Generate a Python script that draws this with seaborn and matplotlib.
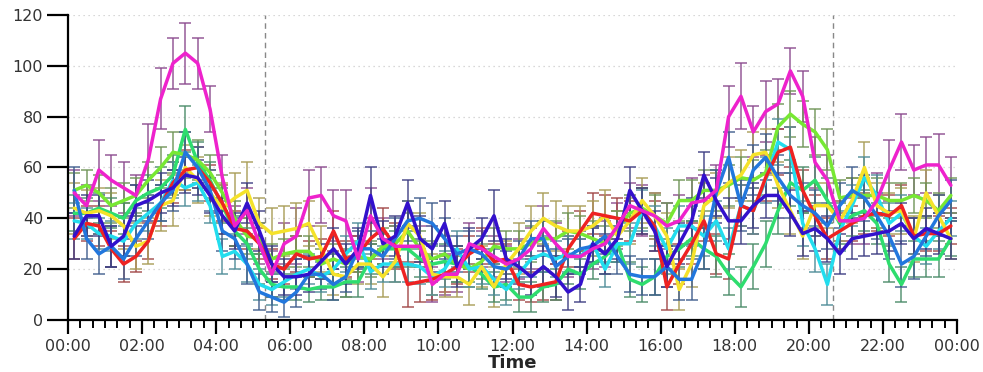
import numpy as np
import pandas as pd
import matplotlib
matplotlib.use("Agg")
import matplotlib.pyplot as plt
import seaborn as sns
from matplotlib.ticker import MultipleLocator, FixedLocator

# bin centres, 20-minute bins (hours of day)
minutes = np.arange(10, 1440, 20)
hours = minutes / 60.0

series_names = ["magenta", "red", "yellow", "lime", "green", "cyan", "blue", "navy"]

magenta = [50, 45, 59, 55, 52, 49, 63, 87, 101, 105,
           101, 83, 56, 37, 43, 30, 18, 30, 33, 48,
           49, 41, 39, 24, 41, 32, 29, 29, 29, 14,
           18, 18, 30, 28, 25, 22, 24, 28, 36, 30,
           25, 25, 28, 30, 37, 45, 43, 41, 37, 39,
           46, 47, 51, 80, 88, 74, 82, 85, 98, 88,
           62, 55, 39, 39, 40, 47, 59, 70, 59, 61,
           61, 53]
red = [32, 38, 37, 28, 22, 25, 31, 45, 54, 59,
       60, 54, 46, 36, 35, 30, 22, 20, 26, 24,
       25, 35, 24, 26, 32, 36, 29, 14, 15, 16,
       18, 21, 26, 29, 23, 24, 14, 13, 14, 15,
       28, 35, 42, 41, 40, 39, 43, 37, 13, 22,
       30, 39, 26, 24, 45, 43, 56, 66, 68, 51,
       41, 32, 35, 38, 41, 42, 41, 45, 33, 34,
       34, 37]
yellow = [44, 42, 43, 41, 37, 29, 31, 45, 47, 60,
          55, 50, 44, 48, 51, 38, 34, 35, 36, 38,
          28, 18, 17, 22, 22, 17, 23, 38, 33, 18,
          17, 17, 14, 21, 13, 22, 28, 35, 40, 37,
          35, 35, 37, 41, 33, 39, 47, 41, 33, 12,
          22, 45, 49, 54, 57, 65, 66, 53, 43, 33,
          45, 45, 39, 47, 60, 45, 42, 43, 32, 50,
          41, 32]
lime = [51, 53, 50, 45, 47, 49, 55, 60, 66, 65,
        63, 58, 50, 40, 33, 32, 24, 26, 27, 27,
        22, 24, 22, 25, 24, 29, 30, 35, 28, 24,
        26, 22, 20, 23, 29, 28, 28, 30, 32, 32,
        35, 34, 32, 30, 36, 42, 44, 41, 38, 47,
        47, 51, 51, 53, 56, 55, 58, 76, 81, 77,
        74, 67, 48, 49, 49, 49, 47, 47, 49, 47,
        43, 49]
green = [42, 42, 44, 42, 40, 47, 50, 52, 57, 75,
         62, 55, 45, 35, 30, 20, 14, 13, 13, 12,
         13, 13, 15, 15, 24, 28, 28, 28, 24, 22,
         23, 22, 21, 18, 13, 14, 9, 9, 13, 14,
         20, 18, 22, 25, 30, 16, 14, 17, 25, 28,
         32, 28, 25, 18, 13, 21, 30, 43, 54, 51,
         55, 47, 38, 41, 43, 38, 22, 14, 24, 24,
         24, 32]
cyan = [39, 38, 34, 33, 31, 38, 42, 46, 55, 52,
        54, 45, 25, 27, 22, 14, 12, 15, 18, 20,
        17, 20, 26, 31, 19, 22, 22, 22, 21, 17,
        20, 28, 20, 21, 16, 12, 18, 24, 26, 24,
        26, 25, 30, 20, 30, 30, 43, 37, 28, 37,
        37, 33, 39, 28, 45, 43, 55, 70, 67, 38,
        28, 14, 35, 45, 56, 49, 38, 42, 33, 29,
        35, 40]
blue = [51, 32, 26, 29, 24, 32, 39, 46, 51, 66,
        60, 51, 35, 32, 22, 11, 9, 7, 11, 18,
        18, 14, 17, 28, 28, 25, 32, 39, 40, 38,
        32, 26, 28, 26, 21, 20, 24, 32, 32, 21,
        25, 28, 29, 33, 25, 18, 17, 17, 21, 16,
        16, 28, 50, 64, 45, 59, 64, 56, 49, 45,
        42, 37, 45, 51, 48, 41, 33, 22, 25, 33,
        41, 47]
navy = [33, 41, 41, 29, 33, 45, 47, 50, 52, 57,
        56, 49, 41, 35, 46, 35, 22, 17, 17, 18,
        23, 28, 22, 28, 49, 30, 33, 46, 32, 28,
        38, 21, 28, 32, 41, 24, 21, 17, 21, 17,
        11, 14, 30, 26, 32, 51, 43, 35, 21, 30,
        39, 57, 47, 39, 39, 45, 49, 49, 42, 34,
        36, 32, 26, 32, 33, 34, 35, 38, 32, 36,
        34, 32]

magenta_err = [9, 8, 12, 10, 10, 8, 14, 12, 10, 12,
               10, 9, 9, 8, 9, 8, 9, 8, 11, 11,
               11, 10, 12, 9, 11, 8, 8, 7, 8, 7,
               8, 7, 8, 7, 8, 7, 8, 8, 9, 8,
               8, 7, 8, 9, 9, 9, 10, 9, 9, 10,
               10, 10, 10, 12, 13, 10, 12, 10, 9, 10,
               10, 10, 8, 9, 10, 11, 12, 11, 10, 11,
               12, 11]
red_err = [8, 7, 8, 7, 7, 6, 7, 8, 8, 8,
           8, 7, 7, 7, 7, 6, 6, 6, 7, 7,
           7, 8, 7, 7, 8, 8, 9, 9, 8, 8,
           7, 7, 7, 7, 7, 6, 6, 6, 6, 7,
           7, 8, 8, 8, 8, 8, 9, 10, 9, 8,
           8, 8, 8, 8, 8, 9, 9, 9, 8, 8,
           8, 8, 7, 7, 7, 7, 8, 8, 7, 7,
           7, 7]
yellow_err = [10, 9, 9, 9, 9, 9, 9, 10, 10, 9,
              9, 9, 10, 10, 11, 10, 10, 10, 10, 9,
              9, 8, 8, 8, 8, 8, 8, 9, 9, 8,
              8, 8, 8, 8, 8, 9, 10, 10, 10, 10,
              10, 10, 10, 10, 10, 9, 9, 9, 9, 8,
              9, 9, 9, 10, 10, 9, 9, 9, 9, 9,
              9, 9, 8, 9, 10, 9, 8, 9, 9, 9,
              8, 8]
lime_err = [7, 6, 7, 7, 7, 7, 7, 8, 8, 9,
            8, 7, 7, 7, 7, 6, 6, 6, 6, 6,
            6, 6, 6, 6, 7, 7, 7, 7, 7, 7,
            7, 7, 7, 7, 7, 7, 7, 7, 7, 7,
            7, 7, 7, 7, 7, 7, 8, 8, 8, 8,
            8, 8, 8, 8, 8, 8, 9, 9, 9, 9,
            9, 8, 7, 7, 7, 7, 7, 7, 7, 7,
            7, 7]
green_err = [7, 6, 6, 6, 6, 6, 7, 8, 8, 9,
             8, 7, 7, 6, 6, 6, 5, 5, 5, 5,
             5, 5, 6, 6, 6, 6, 7, 7, 7, 7,
             7, 7, 6, 6, 6, 6, 6, 6, 6, 6,
             6, 6, 6, 7, 7, 7, 7, 7, 7, 7,
             7, 8, 8, 8, 8, 9, 9, 9, 9, 9,
             9, 9, 8, 8, 8, 8, 7, 7, 7, 7,
             7, 7]
cyan_err = [7, 6, 6, 6, 6, 6, 7, 7, 7, 7,
            7, 7, 7, 7, 7, 6, 6, 6, 6, 6,
            6, 6, 7, 7, 7, 7, 7, 7, 7, 7,
            7, 7, 7, 7, 6, 6, 6, 7, 7, 7,
            7, 7, 7, 7, 7, 8, 8, 8, 8, 8,
            8, 8, 8, 8, 8, 9, 9, 9, 9, 9,
            9, 8, 8, 8, 8, 8, 8, 7, 7, 7,
            7, 7]
blue_err = [9, 8, 8, 8, 8, 7, 7, 7, 8, 8,
            8, 8, 8, 8, 8, 7, 6, 6, 6, 6,
            6, 6, 6, 7, 7, 7, 8, 8, 8, 8,
            8, 7, 7, 7, 7, 7, 7, 7, 7, 7,
            7, 7, 7, 7, 7, 7, 7, 7, 8, 8,
            8, 8, 9, 10, 10, 10, 9, 9, 9, 9,
            9, 9, 9, 9, 9, 9, 9, 9, 9, 8,
            8, 8]
navy_err = [9, 8, 8, 8, 8, 8, 8, 8, 7, 7,
            7, 7, 7, 7, 8, 8, 7, 7, 7, 7,
            7, 8, 8, 8, 11, 9, 8, 9, 9, 9,
            9, 8, 8, 8, 10, 8, 7, 7, 8, 8,
            7, 7, 7, 8, 8, 9, 9, 8, 8, 8,
            9, 9, 9, 9, 9, 9, 9, 9, 9, 9,
            9, 9, 8, 8, 8, 8, 8, 8, 8, 8,
            8, 8]

# sunrise / sunset markers (hours)
sunrise = 5.33
sunset = 20.65

line_colors = {"magenta": "#EE22CC", "red": "#EE2222", "yellow": "#F5E22A",
               "lime": "#77E833", "green": "#2EDD6E", "cyan": "#22DDEE",
               "blue": "#2277DD", "navy": "#3311CC"}
err_colors = {"magenta": "#8A4A8E", "red": "#A04545", "yellow": "#A89C55",
              "lime": "#6E9455", "green": "#4A8A68", "cyan": "#4E8C98",
              "blue": "#3E5C8C", "navy": "#3C3C82"}

means = dict(zip(series_names, [magenta, red, yellow, lime, green, cyan, blue, navy]))
errs = dict(zip(series_names, [magenta_err, red_err, yellow_err, lime_err,
                               green_err, cyan_err, blue_err, navy_err]))

frames = []
for name in series_names:
    frames.append(pd.DataFrame({"hour": hours, "value": means[name],
                                "err": errs[name], "series": name}))
df = pd.concat(frames, ignore_index=True)

sns.set_theme(style="white")
plt.rcParams["font.family"] = ["DejaVu Sans"]

fig = plt.figure(figsize=(9.83, 3.72), dpi=100)
ax = fig.add_axes([0.0692, 0.1398, 0.9044, 0.8199])

# error bars first, lines on top
for name in series_names:
    sub = df[df["series"] == name]
    ax.errorbar(sub["hour"], sub["value"], yerr=sub["err"], fmt="none",
                ecolor=err_colors[name], elinewidth=1.1, capsize=4.5,
                capthick=1.1, alpha=0.9, zorder=2)

draw_order = ["green", "lime", "cyan", "yellow", "red", "blue", "navy", "magenta"]
sns.lineplot(data=df, x="hour", y="value", hue="series", hue_order=draw_order,
             palette=line_colors, linewidth=2.5, legend=False, ax=ax, zorder=3)

for xv in (sunrise, sunset):
    ax.axvline(xv, color="#888888", linestyle=(0, (4, 3)), linewidth=1.0, zorder=1)

ax.set_xlim(0, 24)
ax.set_ylim(0, 120)
ax.set_yticks(range(0, 121, 20))
for yv in range(20, 121, 20):
    ax.axhline(yv, color="#CCCCCC", linestyle=(0, (1, 3)), linewidth=0.9, zorder=0)

ax.xaxis.set_major_locator(FixedLocator(range(0, 25, 2)))
ax.set_xticklabels([f"{h % 24:02d}:00" for h in range(0, 25, 2)])
ax.xaxis.set_minor_locator(MultipleLocator(1 / 3))

ax.tick_params(axis="x", which="major", direction="out", length=10, width=1.6,
               color="black", labelsize=11.5, labelcolor="#333333", pad=4, bottom=True)
ax.tick_params(axis="x", which="minor", direction="out", length=6, width=1.4,
               color="black", bottom=True)
ax.tick_params(axis="y", which="major", direction="out", length=15, width=1.6,
               color="black", labelsize=11.5, labelcolor="#333333", pad=3, left=True)

for side in ("top", "right"):
    ax.spines[side].set_visible(False)
for side in ("left", "bottom"):
    ax.spines[side].set_color("black")
    ax.spines[side].set_linewidth(1.6)

ax.set_xlabel("Time", fontsize=13, fontweight="bold", labelpad=0)
ax.set_ylabel("")

fig.savefig("out.png", dpi=100)
